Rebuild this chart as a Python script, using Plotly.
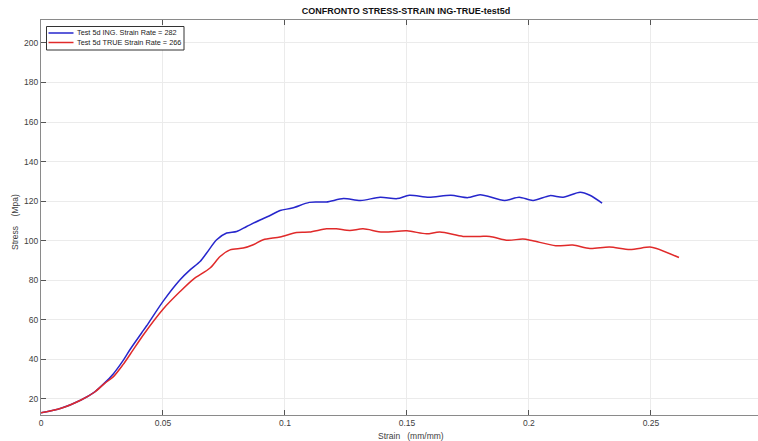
import plotly.graph_objects as go

strain_ing = [0, 0.0082, 0.0164, 0.0219, 0.026, 0.0297, 0.0337, 0.0365, 0.0413, 0.0433, 0.0501,
              0.057, 0.0611, 0.0652, 0.0679, 0.072, 0.0761, 0.0802, 0.0843, 0.0898, 0.0935,
              0.098, 0.103, 0.110, 0.117,
              0.124, 0.131, 0.139, 0.146, 0.151, 0.159, 0.168, 0.175, 0.18, 0.190, 0.196, 0.2017,
              0.2086, 0.214, 0.221, 0.225, 0.230]
stress_ing = [13, 15.3, 19.5, 23.5, 28, 32.8, 39.5, 45, 53.5, 57, 69.5,
              80.3, 85.3, 89.5, 93.8, 100.5, 103.9, 104.7, 107.2, 110.5, 112.5,
              115.3, 116.5, 119.4, 119.6,
              121.3, 120.3, 122, 121.3, 123, 122, 123, 121.8, 123.3, 120.4, 122, 120.4,
              122.8, 122, 124.5, 123, 119]

strain_true = [0, 0.0082, 0.0164, 0.0219, 0.026, 0.0297, 0.0337, 0.0365, 0.042, 0.0501, 0.057,
               0.0624, 0.0693, 0.0734, 0.0775, 0.0829, 0.087, 0.0911, 0.098, 0.1048, 0.110,
               0.117, 0.121,
               0.1266, 0.132, 0.140, 0.150, 0.158, 0.1635, 0.173, 0.18, 0.184, 0.1914, 0.1975,
               0.2016, 0.211, 0.218, 0.225, 0.233, 0.2414, 0.2496, 0.2523, 0.2615]
stress_true = [13, 15.3, 19.5, 23.4, 27.8, 31.3, 37.5, 42.5, 52.5, 65.5, 74.3,
               80.5, 86.2, 92, 95.4, 96.3, 98, 100.5, 101.9, 104.2, 104.4,
               106, 106,
               105.2, 106, 104.4, 105, 103.5, 104.4, 102.2, 102.2, 102.2, 100.2, 100.9,
               100, 97.5, 97.8, 96.1, 96.8, 95.6, 96.8, 96.1, 91.5]

series_names = ["Test 5d ING. Strain Rate = 282", "Test 5d TRUE Strain Rate = 266"]
series_colors = ["#2626cc", "#e02a2a"]

x_ticks = [0, 0.05, 0.1, 0.15, 0.2, 0.25]
x_ticklabels = ["0", "0.05", "0.1", "0.15", "0.2", "0.25"]
y_ticks = [20, 40, 60, 80, 100, 120, 140, 160, 180, 200]

FONT = "Liberation Sans, Arial, sans-serif"
W, H = 758, 441
PL, PR, PT, PB = 41, 758, 20, 415  # plot area in window pixels


def px(x):
    return (x - PL) / (PR - PL)


def py(y):
    return (PB - y) / (PB - PT)


fig = go.Figure()
for xs, ys, name, col in [(strain_ing, stress_ing, series_names[0], series_colors[0]),
                          (strain_true, stress_true, series_names[1], series_colors[1])]:
    fig.add_trace(go.Scatter(x=xs, y=ys, mode="lines", name=name, showlegend=False,
                             line=dict(color=col, width=1.5, shape="spline", smoothing=0.8)))

shapes = [dict(type="rect", xref="paper", yref="paper", x0=px(46.5), x1=px(184), y0=py(26.5), y1=py(50),
               line=dict(color="#333333", width=1), fillcolor="white", layer="above")]
annotations = []
for i, (name, col) in enumerate(zip(series_names, series_colors)):
    yy = 33 + i * 9.5
    shapes.append(dict(type="line", xref="paper", yref="paper", x0=px(48.5), x1=px(73.5),
                       y0=py(yy), y1=py(yy), line=dict(color=col, width=1.5), layer="above"))
    annotations.append(dict(xref="paper", yref="paper", x=px(74.5), y=py(yy), text=name,
                            showarrow=False, xanchor="left", yanchor="middle",
                            font=dict(family=FONT, size=7.3, color="#222222")))

annotations.append(dict(xref="paper", yref="paper", x=px(411), y=py(436), text="Strain   (mm/mm)",
                        showarrow=False, xanchor="center", yanchor="middle",
                        font=dict(family=FONT, size=8.5, color="#404040")))
annotations.append(dict(xref="paper", yref="paper", x=px(15), y=py(222), text="Stress    (Mpa)",
                        showarrow=False, xanchor="center", yanchor="middle", textangle=-90,
                        font=dict(family=FONT, size=8.5, color="#404040")))

fig.update_layout(
    width=W, height=H,
    margin=dict(l=PL, r=W - PR, t=PT, b=H - PB, autoexpand=False),
    paper_bgcolor="white", plot_bgcolor="white",
    font=dict(family=FONT, size=8.5, color="#404040"),
    title=dict(text="<b>CONFRONTO STRESS-STRAIN ING-TRUE-test5d</b>",
               xref="container", yref="container",
               x=406 / W, xanchor="center", y=1 - 11 / H, yanchor="middle",
               font=dict(family=FONT, size=9, color="#111111")),
    shapes=shapes, annotations=annotations,
    showlegend=False,
)
fig.update_xaxes(range=[0, 0.2939], tickvals=x_ticks, ticktext=x_ticklabels, automargin=False,
                 showgrid=True, gridcolor="#ebebeb", gridwidth=1,
                 showline=True, linecolor="#8a8a8a", linewidth=1, mirror="ticks",
                 ticks="inside", ticklen=5, tickcolor="#555555", zeroline=False)
fig.update_yaxes(range=[11.9, 211.6], tickvals=y_ticks, automargin=False,
                 showgrid=True, gridcolor="#ebebeb", gridwidth=1,
                 showline=True, linecolor="#8a8a8a", linewidth=1,
                 ticks="inside", ticklen=5, tickcolor="#555555", zeroline=False)

fig.write_html("out.html", config={"displayModeBar": False},
               post_script="document.body.style.margin='0';document.body.style.overflow='hidden';")
